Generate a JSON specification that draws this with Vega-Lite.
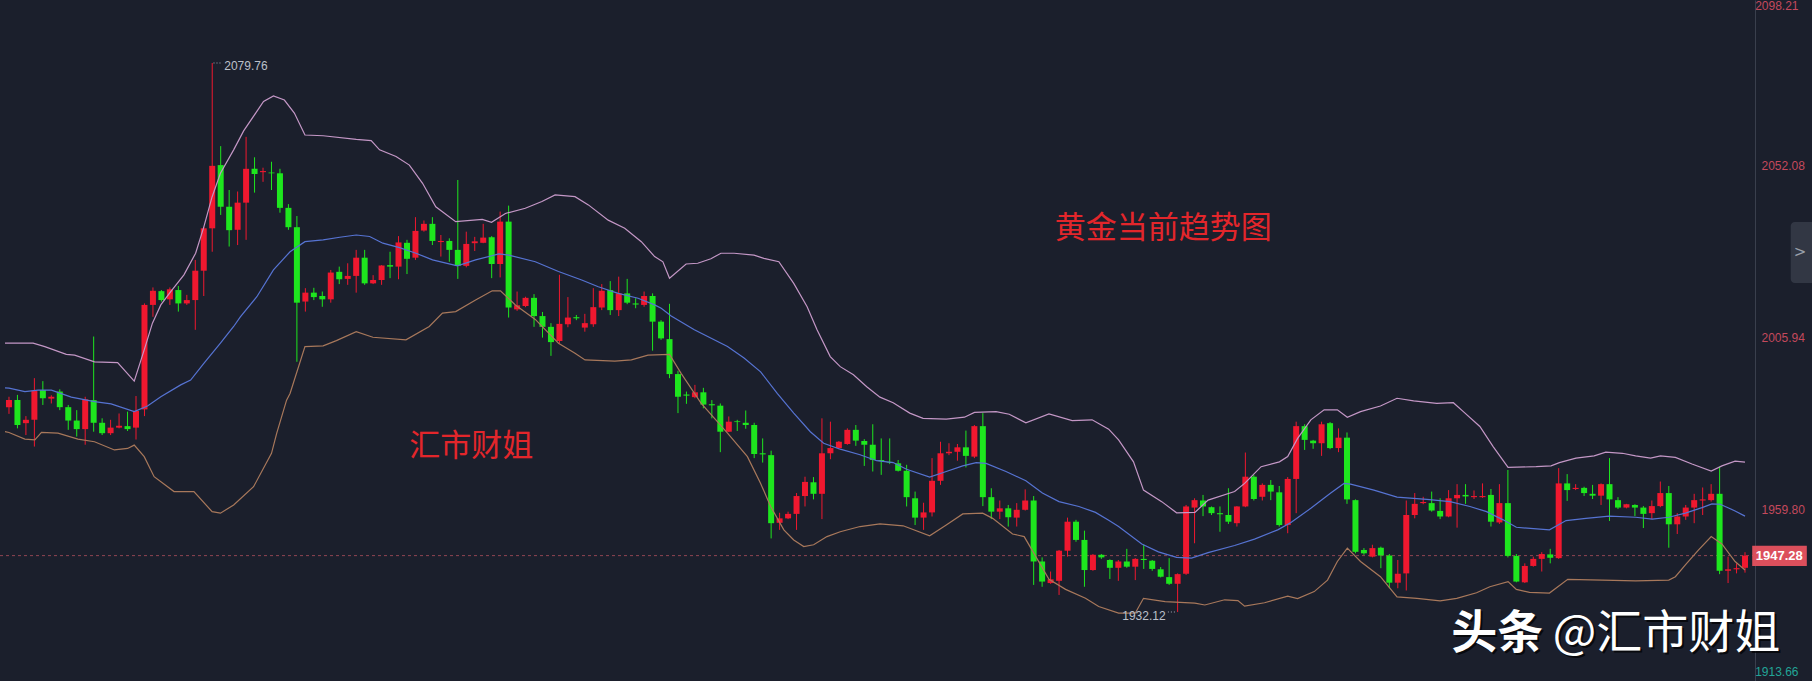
{
  "$schema": "https://vega.github.io/schema/vega-lite/v6.json",
  "width": 1755,
  "height": 681,
  "autosize": "none",
  "padding": {"left": 0, "top": 0, "right": 57, "bottom": 0},
  "background": "#1b1f2c",
  "config": {"view": {"stroke": null}, "font": "Liberation Sans"},
  "resolve": {"axis": {"y": "independent", "x": "independent"}},
  "datasets": {
    "candles": [
      {"i":0,"open":1987.2,"high":1990.0,"low":1985.4,"close":1989.1},
      {"i":1,"open":1989.1,"high":1990.5,"low":1981.5,"close":1982.4},
      {"i":2,"open":1982.9,"high":1984.8,"low":1979.7,"close":1983.8},
      {"i":3,"open":1983.8,"high":1995.0,"low":1976.6,"close":1991.6},
      {"i":4,"open":1991.8,"high":1994.2,"low":1987.8,"close":1989.6},
      {"i":5,"open":1989.5,"high":1990.4,"low":1988.2,"close":1990.0},
      {"i":6,"open":1991.4,"high":1992.0,"low":1986.4,"close":1987.2},
      {"i":7,"open":1987.2,"high":1987.8,"low":1981.1,"close":1983.6},
      {"i":8,"open":1983.6,"high":1986.4,"low":1979.3,"close":1981.3},
      {"i":9,"open":1981.3,"high":1990.0,"low":1977.1,"close":1989.3},
      {"i":10,"open":1989.1,"high":2006.2,"low":1980.6,"close":1983.0},
      {"i":11,"open":1983.0,"high":1984.2,"low":1979.7,"close":1980.2},
      {"i":12,"open":1980.2,"high":1983.8,"low":1979.7,"close":1981.7},
      {"i":13,"open":1981.7,"high":1985.5,"low":1981.5,"close":1982.2},
      {"i":14,"open":1982.1,"high":1986.0,"low":1980.8,"close":1981.3},
      {"i":15,"open":1981.7,"high":1990.2,"low":1978.5,"close":1986.2},
      {"i":16,"open":1986.6,"high":2015.1,"low":1984.8,"close":2014.7},
      {"i":17,"open":2014.7,"high":2019.4,"low":2011.5,"close":2018.5},
      {"i":18,"open":2018.4,"high":2018.7,"low":2015.6,"close":2016.0},
      {"i":19,"open":2016.2,"high":2019.4,"low":2014.7,"close":2018.9},
      {"i":20,"open":2018.7,"high":2019.8,"low":2012.9,"close":2015.1},
      {"i":21,"open":2015.1,"high":2017.4,"low":2014.7,"close":2016.0},
      {"i":22,"open":2016.0,"high":2026.8,"low":2008.0,"close":2023.9},
      {"i":23,"open":2023.9,"high":2035.7,"low":2017.1,"close":2035.3},
      {"i":24,"open":2035.3,"high":2079.76,"low":2029.0,"close":2052.1},
      {"i":25,"open":2052.3,"high":2057.4,"low":2038.9,"close":2041.1},
      {"i":26,"open":2041.1,"high":2045.6,"low":2030.4,"close":2034.8},
      {"i":27,"open":2034.9,"high":2045.2,"low":2030.8,"close":2042.2},
      {"i":28,"open":2042.2,"high":2059.9,"low":2032.2,"close":2051.3},
      {"i":29,"open":2051.3,"high":2054.4,"low":2044.9,"close":2049.9},
      {"i":30,"open":2050.4,"high":2051.6,"low":2047.8,"close":2050.7},
      {"i":31,"open":2050.3,"high":2053.2,"low":2045.6,"close":2050.1},
      {"i":32,"open":2050.1,"high":2051.3,"low":2039.5,"close":2040.8},
      {"i":33,"open":2040.8,"high":2041.8,"low":2034.9,"close":2035.6},
      {"i":34,"open":2035.6,"high":2038.6,"low":1999.4,"close":2015.3},
      {"i":35,"open":2015.6,"high":2019.2,"low":2012.9,"close":2018.0},
      {"i":36,"open":2018.0,"high":2019.3,"low":2016.0,"close":2016.8},
      {"i":37,"open":2017.1,"high":2018.3,"low":2014.2,"close":2016.2},
      {"i":38,"open":2016.2,"high":2024.1,"low":2015.3,"close":2023.4},
      {"i":39,"open":2023.6,"high":2025.0,"low":2020.3,"close":2021.6},
      {"i":40,"open":2021.7,"high":2025.9,"low":2020.1,"close":2022.5},
      {"i":41,"open":2022.5,"high":2029.5,"low":2018.0,"close":2027.4},
      {"i":42,"open":2027.4,"high":2029.5,"low":2020.1,"close":2020.5},
      {"i":43,"open":2020.5,"high":2022.7,"low":2020.3,"close":2021.4},
      {"i":44,"open":2021.4,"high":2025.4,"low":2020.1,"close":2025.3},
      {"i":45,"open":2025.4,"high":2029.0,"low":2021.9,"close":2025.0},
      {"i":46,"open":2025.0,"high":2033.2,"low":2021.6,"close":2031.5},
      {"i":47,"open":2031.4,"high":2032.2,"low":2023.0,"close":2027.1},
      {"i":48,"open":2027.4,"high":2038.3,"low":2026.8,"close":2034.6},
      {"i":49,"open":2034.7,"high":2037.4,"low":2034.4,"close":2036.5},
      {"i":50,"open":2036.5,"high":2038.3,"low":2030.8,"close":2031.9},
      {"i":51,"open":2031.6,"high":2033.5,"low":2027.7,"close":2031.9},
      {"i":52,"open":2031.9,"high":2032.6,"low":2026.3,"close":2029.5},
      {"i":53,"open":2029.5,"high":2048.3,"low":2021.7,"close":2025.2},
      {"i":54,"open":2025.2,"high":2034.4,"low":2024.8,"close":2031.1},
      {"i":55,"open":2031.3,"high":2033.0,"low":2029.2,"close":2031.8},
      {"i":56,"open":2031.4,"high":2036.5,"low":2031.3,"close":2032.8},
      {"i":57,"open":2032.9,"high":2033.2,"low":2021.9,"close":2025.7},
      {"i":58,"open":2025.7,"high":2039.8,"low":2022.1,"close":2037.1},
      {"i":59,"open":2037.1,"high":2041.4,"low":2011.3,"close":2014.0},
      {"i":60,"open":2013.5,"high":2018.3,"low":2013.1,"close":2014.6},
      {"i":61,"open":2014.4,"high":2016.9,"low":2014.1,"close":2016.6},
      {"i":62,"open":2016.6,"high":2017.6,"low":2008.8,"close":2011.7},
      {"i":63,"open":2011.7,"high":2012.8,"low":2005.9,"close":2008.8},
      {"i":64,"open":2008.8,"high":2009.8,"low":2001.0,"close":2004.7},
      {"i":65,"open":2005.0,"high":2022.8,"low":2004.4,"close":2009.6},
      {"i":66,"open":2009.5,"high":2016.8,"low":2008.7,"close":2011.3},
      {"i":67,"open":2011.4,"high":2012.0,"low":2010.6,"close":2011.1},
      {"i":68,"open":2008.6,"high":2012.3,"low":2007.5,"close":2009.8},
      {"i":69,"open":2009.5,"high":2019.2,"low":2008.8,"close":2014.1},
      {"i":70,"open":2014.0,"high":2020.3,"low":2013.3,"close":2018.5},
      {"i":71,"open":2018.7,"high":2021.1,"low":2012.0,"close":2013.3},
      {"i":72,"open":2013.3,"high":2022.3,"low":2011.7,"close":2017.8},
      {"i":73,"open":2017.8,"high":2021.7,"low":2014.9,"close":2015.3},
      {"i":74,"open":2015.1,"high":2016.5,"low":2013.8,"close":2014.8},
      {"i":75,"open":2014.7,"high":2018.3,"low":2014.2,"close":2017.1},
      {"i":76,"open":2017.1,"high":2017.8,"low":2002.4,"close":2010.2},
      {"i":77,"open":2010.2,"high":2010.6,"low":2005.3,"close":2005.7},
      {"i":78,"open":2005.5,"high":2015.0,"low":1995.0,"close":1996.1},
      {"i":79,"open":1996.1,"high":1997.0,"low":1985.6,"close":1990.0},
      {"i":80,"open":1990.6,"high":1991.4,"low":1988.1,"close":1990.3},
      {"i":81,"open":1989.9,"high":1993.2,"low":1989.6,"close":1991.2},
      {"i":82,"open":1991.2,"high":1992.4,"low":1986.9,"close":1987.9},
      {"i":83,"open":1988.0,"high":1989.1,"low":1984.2,"close":1987.7},
      {"i":84,"open":1987.6,"high":1988.2,"low":1975.1,"close":1980.6},
      {"i":85,"open":1980.6,"high":1984.7,"low":1980.5,"close":1983.3},
      {"i":86,"open":1983.4,"high":1983.8,"low":1980.8,"close":1983.2},
      {"i":87,"open":1983.0,"high":1986.3,"low":1981.4,"close":1982.4},
      {"i":88,"open":1982.4,"high":1983.0,"low":1973.5,"close":1974.6},
      {"i":89,"open":1974.8,"high":1978.8,"low":1972.3,"close":1974.5},
      {"i":90,"open":1974.3,"high":1975.5,"low":1951.9,"close":1956.0},
      {"i":91,"open":1956.1,"high":1958.8,"low":1954.2,"close":1957.3},
      {"i":92,"open":1957.3,"high":1959.1,"low":1957.1,"close":1958.5},
      {"i":93,"open":1958.5,"high":1964.1,"low":1954.2,"close":1963.3},
      {"i":94,"open":1963.3,"high":1968.5,"low":1960.5,"close":1967.1},
      {"i":95,"open":1967.0,"high":1968.4,"low":1962.4,"close":1963.9},
      {"i":96,"open":1963.9,"high":1984.2,"low":1957.1,"close":1974.8},
      {"i":97,"open":1974.8,"high":1983.3,"low":1973.2,"close":1976.2},
      {"i":98,"open":1976.2,"high":1978.1,"low":1975.9,"close":1977.9},
      {"i":99,"open":1977.3,"high":1981.5,"low":1977.1,"close":1981.1},
      {"i":100,"open":1981.1,"high":1982.4,"low":1976.8,"close":1978.2},
      {"i":101,"open":1978.1,"high":1978.6,"low":1971.4,"close":1977.1},
      {"i":102,"open":1977.1,"high":1982.6,"low":1969.9,"close":1973.0},
      {"i":103,"open":1973.0,"high":1978.8,"low":1969.0,"close":1972.7},
      {"i":104,"open":1972.5,"high":1978.8,"low":1971.9,"close":1972.3},
      {"i":105,"open":1972.1,"high":1973.0,"low":1969.9,"close":1970.1},
      {"i":106,"open":1970.1,"high":1971.7,"low":1960.5,"close":1963.0},
      {"i":107,"open":1962.7,"high":1964.5,"low":1955.5,"close":1957.5},
      {"i":108,"open":1957.5,"high":1961.5,"low":1954.2,"close":1958.9},
      {"i":109,"open":1958.9,"high":1973.5,"low":1957.8,"close":1967.4},
      {"i":110,"open":1967.4,"high":1977.9,"low":1966.3,"close":1974.8},
      {"i":111,"open":1974.8,"high":1977.5,"low":1974.3,"close":1975.2},
      {"i":112,"open":1975.2,"high":1977.3,"low":1972.8,"close":1976.4},
      {"i":113,"open":1976.4,"high":1980.9,"low":1971.0,"close":1974.1},
      {"i":114,"open":1973.9,"high":1982.4,"low":1973.5,"close":1982.1},
      {"i":115,"open":1982.1,"high":1985.6,"low":1960.6,"close":1963.0},
      {"i":116,"open":1963.0,"high":1965.4,"low":1957.1,"close":1959.1},
      {"i":117,"open":1959.1,"high":1962.1,"low":1957.1,"close":1960.0},
      {"i":118,"open":1960.0,"high":1960.9,"low":1955.1,"close":1957.6},
      {"i":119,"open":1957.5,"high":1961.4,"low":1955.1,"close":1959.6},
      {"i":120,"open":1959.6,"high":1965.1,"low":1959.4,"close":1962.1},
      {"i":121,"open":1962.1,"high":1963.3,"low":1939.4,"close":1945.7},
      {"i":122,"open":1945.7,"high":1946.8,"low":1938.9,"close":1940.3},
      {"i":123,"open":1939.9,"high":1943.0,"low":1939.7,"close":1940.9},
      {"i":124,"open":1940.5,"high":1948.8,"low":1936.7,"close":1948.6},
      {"i":125,"open":1948.6,"high":1957.5,"low":1947.0,"close":1956.4},
      {"i":126,"open":1956.4,"high":1956.9,"low":1951.0,"close":1951.5},
      {"i":127,"open":1951.5,"high":1954.0,"low":1938.9,"close":1943.4},
      {"i":128,"open":1943.4,"high":1947.7,"low":1943.2,"close":1947.5},
      {"i":129,"open":1947.5,"high":1947.7,"low":1946.4,"close":1946.8},
      {"i":130,"open":1946.1,"high":1946.3,"low":1941.0,"close":1944.0},
      {"i":131,"open":1944.0,"high":1946.1,"low":1940.5,"close":1945.7},
      {"i":132,"open":1945.7,"high":1949.1,"low":1944.0,"close":1944.3},
      {"i":133,"open":1944.3,"high":1946.6,"low":1940.7,"close":1946.4},
      {"i":134,"open":1946.4,"high":1950.2,"low":1943.7,"close":1946.1},
      {"i":135,"open":1945.9,"high":1946.1,"low":1943.2,"close":1943.7},
      {"i":136,"open":1943.6,"high":1944.2,"low":1941.4,"close":1941.6},
      {"i":137,"open":1941.5,"high":1946.6,"low":1939.4,"close":1939.7},
      {"i":138,"open":1939.7,"high":1942.5,"low":1932.12,"close":1942.3},
      {"i":139,"open":1942.4,"high":1960.9,"low":1942.1,"close":1960.5},
      {"i":140,"open":1960.2,"high":1962.7,"low":1950.6,"close":1962.2},
      {"i":141,"open":1962.1,"high":1963.6,"low":1957.9,"close":1960.5},
      {"i":142,"open":1960.3,"high":1960.5,"low":1958.2,"close":1958.7},
      {"i":143,"open":1958.7,"high":1960.5,"low":1953.7,"close":1958.4},
      {"i":144,"open":1958.2,"high":1965.4,"low":1955.8,"close":1956.4},
      {"i":145,"open":1956.0,"high":1960.6,"low":1955.1,"close":1960.5},
      {"i":146,"open":1960.5,"high":1975.0,"low":1960.3,"close":1968.5},
      {"i":147,"open":1968.5,"high":1969.0,"low":1962.1,"close":1962.5},
      {"i":148,"open":1963.1,"high":1966.7,"low":1962.1,"close":1966.3},
      {"i":149,"open":1966.3,"high":1967.6,"low":1962.2,"close":1964.5},
      {"i":150,"open":1964.3,"high":1966.0,"low":1955.1,"close":1955.5},
      {"i":151,"open":1955.5,"high":1968.4,"low":1953.3,"close":1967.9},
      {"i":152,"open":1967.9,"high":1983.3,"low":1958.7,"close":1982.1},
      {"i":153,"open":1982.1,"high":1982.6,"low":1975.7,"close":1978.4},
      {"i":154,"open":1978.2,"high":1978.4,"low":1976.0,"close":1977.5},
      {"i":155,"open":1977.5,"high":1983.3,"low":1974.1,"close":1982.6},
      {"i":156,"open":1982.9,"high":1983.2,"low":1975.9,"close":1976.2},
      {"i":157,"open":1976.2,"high":1981.5,"low":1975.1,"close":1979.0},
      {"i":158,"open":1979.0,"high":1980.4,"low":1961.2,"close":1962.4},
      {"i":159,"open":1962.2,"high":1962.4,"low":1947.9,"close":1948.3},
      {"i":160,"open":1948.8,"high":1949.3,"low":1947.5,"close":1947.9},
      {"i":161,"open":1947.0,"high":1950.2,"low":1946.8,"close":1949.3},
      {"i":162,"open":1949.4,"high":1949.7,"low":1943.9,"close":1947.3},
      {"i":163,"open":1947.3,"high":1947.7,"low":1938.5,"close":1940.0},
      {"i":164,"open":1940.0,"high":1946.1,"low":1938.5,"close":1942.4},
      {"i":165,"open":1942.5,"high":1962.1,"low":1937.9,"close":1958.2},
      {"i":166,"open":1958.2,"high":1964.1,"low":1957.3,"close":1961.2},
      {"i":167,"open":1961.4,"high":1963.1,"low":1961.1,"close":1961.7},
      {"i":168,"open":1961.4,"high":1964.5,"low":1959.1,"close":1959.4},
      {"i":169,"open":1959.3,"high":1962.7,"low":1957.1,"close":1957.8},
      {"i":170,"open":1957.8,"high":1964.9,"low":1957.6,"close":1962.7},
      {"i":171,"open":1962.7,"high":1966.5,"low":1954.8,"close":1963.6},
      {"i":172,"open":1963.6,"high":1966.5,"low":1961.2,"close":1963.2},
      {"i":173,"open":1963.0,"high":1964.8,"low":1962.5,"close":1963.3},
      {"i":174,"open":1963.0,"high":1966.7,"low":1962.8,"close":1963.3},
      {"i":175,"open":1963.6,"high":1965.2,"low":1955.1,"close":1956.4},
      {"i":176,"open":1956.2,"high":1966.5,"low":1955.8,"close":1961.4},
      {"i":177,"open":1961.4,"high":1970.3,"low":1946.8,"close":1947.2},
      {"i":178,"open":1947.2,"high":1947.7,"low":1940.1,"close":1940.3},
      {"i":179,"open":1940.1,"high":1945.2,"low":1939.9,"close":1944.5},
      {"i":180,"open":1944.5,"high":1947.0,"low":1944.3,"close":1946.4},
      {"i":181,"open":1946.4,"high":1948.2,"low":1943.0,"close":1947.7},
      {"i":182,"open":1947.6,"high":1949.1,"low":1945.2,"close":1946.7},
      {"i":183,"open":1946.6,"high":1970.8,"low":1946.4,"close":1966.7},
      {"i":184,"open":1966.7,"high":1969.2,"low":1962.0,"close":1964.9},
      {"i":185,"open":1965.2,"high":1966.5,"low":1964.9,"close":1965.5},
      {"i":186,"open":1965.5,"high":1965.8,"low":1963.3,"close":1964.1},
      {"i":187,"open":1963.9,"high":1966.3,"low":1962.5,"close":1963.4},
      {"i":188,"open":1963.4,"high":1966.7,"low":1960.9,"close":1966.5},
      {"i":189,"open":1966.5,"high":1973.5,"low":1956.6,"close":1962.4},
      {"i":190,"open":1962.2,"high":1963.0,"low":1959.8,"close":1960.2},
      {"i":191,"open":1960.2,"high":1961.2,"low":1960.0,"close":1961.1},
      {"i":192,"open":1960.9,"high":1961.1,"low":1957.9,"close":1960.2},
      {"i":193,"open":1960.2,"high":1960.6,"low":1954.7,"close":1958.5},
      {"i":194,"open":1958.7,"high":1962.1,"low":1957.1,"close":1960.6},
      {"i":195,"open":1960.6,"high":1967.2,"low":1960.3,"close":1964.1},
      {"i":196,"open":1964.1,"high":1966.0,"low":1949.4,"close":1955.7},
      {"i":197,"open":1955.7,"high":1958.7,"low":1953.1,"close":1957.8},
      {"i":198,"open":1957.8,"high":1960.9,"low":1956.9,"close":1960.2},
      {"i":199,"open":1960.2,"high":1963.9,"low":1956.0,"close":1962.2},
      {"i":200,"open":1962.1,"high":1965.6,"low":1958.2,"close":1962.4},
      {"i":201,"open":1962.2,"high":1966.5,"low":1961.8,"close":1963.9},
      {"i":202,"open":1963.9,"high":1971.2,"low":1942.3,"close":1943.2},
      {"i":203,"open":1943.2,"high":1947.0,"low":1939.9,"close":1943.6},
      {"i":204,"open":1943.6,"high":1945.2,"low":1942.5,"close":1943.9},
      {"i":205,"open":1944.0,"high":1948.2,"low":1942.7,"close":1947.28}
    ],
    "bands": [
      {"b":"u","i":-0.47,"v":2004.4},{"b":"u","i":0,"v":2004.4},{"b":"u","i":2.85,"v":2004.4},{"b":"u","i":4.23,"v":2003.5},{"b":"u","i":6.77,"v":2001.4},{"b":"u","i":7.75,"v":2001.2},{"b":"u","i":10.1,"v":1999.4},{"b":"u","i":12.83,"v":1999.2},{"b":"u","i":14.79,"v":1994.2},{"b":"u","i":15.97,"v":2002.6},{"b":"u","i":16.94,"v":2009.8},{"b":"u","i":17.93,"v":2014.7},{"b":"u","i":19.1,"v":2018.3},{"b":"u","i":20.66,"v":2022.8},{"b":"u","i":22.04,"v":2028.6},{"b":"u","i":23.01,"v":2035.7},{"b":"u","i":23.99,"v":2043.8},{"b":"u","i":24.97,"v":2050.1},{"b":"u","i":26.53,"v":2056.4},{"b":"u","i":27.71,"v":2061.5},{"b":"u","i":30.06,"v":2069.4},{"b":"u","i":31.23,"v":2070.9},{"b":"u","i":32.52,"v":2069.8},{"b":"u","i":33.7,"v":2066.3},{"b":"u","i":34.95,"v":2060.4},{"b":"u","i":37.1,"v":2060.2},{"b":"u","i":41.01,"v":2059.2},{"b":"u","i":42.77,"v":2058.9},{"b":"u","i":43.76,"v":2056.4},{"b":"u","i":45.71,"v":2054.6},{"b":"u","i":47.28,"v":2052.3},{"b":"u","i":48.84,"v":2047.4},{"b":"u","i":50.4,"v":2041.1},{"b":"u","i":52.75,"v":2037.1},{"b":"u","i":55.89,"v":2037.7},{"b":"u","i":56.98,"v":2036.9},{"b":"u","i":58.62,"v":2039.3},{"b":"u","i":60.97,"v":2040.7},{"b":"u","i":62.93,"v":2042.5},{"b":"u","i":64.49,"v":2044.3},{"b":"u","i":66.84,"v":2043.8},{"b":"u","i":68.42,"v":2041.6},{"b":"u","i":70.76,"v":2037.5},{"b":"u","i":72.71,"v":2035.3},{"b":"u","i":74.67,"v":2031.7},{"b":"u","i":76.24,"v":2027.7},{"b":"u","i":77.22,"v":2026.3},{"b":"u","i":78.0,"v":2021.9},{"b":"u","i":79.96,"v":2025.7},{"b":"u","i":81.33,"v":2025.9},{"b":"u","i":82.89,"v":2027.1},{"b":"u","i":84.07,"v":2028.6},{"b":"u","i":85.63,"v":2028.6},{"b":"u","i":87.98,"v":2028.1},{"b":"u","i":89.15,"v":2027.2},{"b":"u","i":90.91,"v":2026.3},{"b":"u","i":92.67,"v":2020.5},{"b":"u","i":94.25,"v":2014.2},{"b":"u","i":95.42,"v":2008.0},{"b":"u","i":96.98,"v":2000.8},{"b":"u","i":98.16,"v":1998.1},{"b":"u","i":99.72,"v":1995.9},{"b":"u","i":101.29,"v":1992.7},{"b":"u","i":102.85,"v":1989.9},{"b":"u","i":104.41,"v":1988.4},{"b":"u","i":106.37,"v":1985.6},{"b":"u","i":107.94,"v":1984.2},{"b":"u","i":110.68,"v":1984.0},{"b":"u","i":112.83,"v":1984.5},{"b":"u","i":114.01,"v":1985.8},{"b":"u","i":116.56,"v":1986.0},{"b":"u","i":118.12,"v":1985.3},{"b":"u","i":120.08,"v":1983.0},{"b":"u","i":122.81,"v":1985.4},{"b":"u","i":125.55,"v":1983.6},{"b":"u","i":127.9,"v":1983.8},{"b":"u","i":129.86,"v":1981.3},{"b":"u","i":131.03,"v":1978.4},{"b":"u","i":132.79,"v":1972.5},{"b":"u","i":133.97,"v":1964.9},{"b":"u","i":136.12,"v":1961.8},{"b":"u","i":137.88,"v":1958.8},{"b":"u","i":140.04,"v":1958.9},{"b":"u","i":141.6,"v":1962.2},{"b":"u","i":144.73,"v":1964.5},{"b":"u","i":145.91,"v":1966.7},{"b":"u","i":147.86,"v":1971.2},{"b":"u","i":150.02,"v":1972.5},{"b":"u","i":151.0,"v":1973.9},{"b":"u","i":152.17,"v":1978.8},{"b":"u","i":153.73,"v":1983.8},{"b":"u","i":155.3,"v":1986.5},{"b":"u","i":156.86,"v":1986.5},{"b":"u","i":158.04,"v":1984.5},{"b":"u","i":159.6,"v":1986.0},{"b":"u","i":161.95,"v":1987.5},{"b":"u","i":163.91,"v":1989.6},{"b":"u","i":165.87,"v":1988.9},{"b":"u","i":168.6,"v":1988.2},{"b":"u","i":170.56,"v":1988.4},{"b":"u","i":171.74,"v":1986.0},{"b":"u","i":173.69,"v":1982.0},{"b":"u","i":175.26,"v":1976.6},{"b":"u","i":177.02,"v":1971.0},{"b":"u","i":180.34,"v":1971.2},{"b":"u","i":182.1,"v":1971.4},{"b":"u","i":183.08,"v":1972.3},{"b":"u","i":185.04,"v":1973.5},{"b":"u","i":187.19,"v":1974.1},{"b":"u","i":188.56,"v":1975.1},{"b":"u","i":190.52,"v":1974.8},{"b":"u","i":192.08,"v":1974.1},{"b":"u","i":193.85,"v":1973.5},{"b":"u","i":195.02,"v":1974.1},{"b":"u","i":196.78,"v":1973.7},{"b":"u","i":198.74,"v":1971.9},{"b":"u","i":201.01,"v":1970.0},{"b":"u","i":202.27,"v":1971.4},{"b":"u","i":203.83,"v":1972.7},{"b":"u","i":205.0,"v":1972.4},
      {"b":"m","i":-0.47,"v":1992.4},{"b":"m","i":0,"v":1992.3},{"b":"m","i":1.88,"v":1991.4},{"b":"m","i":3.44,"v":1991.8},{"b":"m","i":5.01,"v":1991.8},{"b":"m","i":7.36,"v":1989.9},{"b":"m","i":10.1,"v":1988.7},{"b":"m","i":12.06,"v":1988.1},{"b":"m","i":14.79,"v":1986.0},{"b":"m","i":16.36,"v":1987.5},{"b":"m","i":17.93,"v":1990.0},{"b":"m","i":20.28,"v":1993.2},{"b":"m","i":21.45,"v":1994.5},{"b":"m","i":23.01,"v":1999.0},{"b":"m","i":24.97,"v":2004.4},{"b":"m","i":26.53,"v":2008.9},{"b":"m","i":27.32,"v":2011.5},{"b":"m","i":29.27,"v":2016.9},{"b":"m","i":31.23,"v":2024.1},{"b":"m","i":33.19,"v":2029.0},{"b":"m","i":34.95,"v":2031.7},{"b":"m","i":37.1,"v":2032.2},{"b":"m","i":39.06,"v":2032.9},{"b":"m","i":41.01,"v":2033.5},{"b":"m","i":42.59,"v":2033.1},{"b":"m","i":44.15,"v":2031.3},{"b":"m","i":46.11,"v":2030.1},{"b":"m","i":48.06,"v":2028.6},{"b":"m","i":50.02,"v":2026.8},{"b":"m","i":52.95,"v":2025.2},{"b":"m","i":55.1,"v":2026.8},{"b":"m","i":57.85,"v":2028.4},{"b":"m","i":59.02,"v":2028.1},{"b":"m","i":62.15,"v":2026.3},{"b":"m","i":64.89,"v":2023.7},{"b":"m","i":67.63,"v":2021.4},{"b":"m","i":69.59,"v":2019.6},{"b":"m","i":71.94,"v":2017.8},{"b":"m","i":74.29,"v":2016.5},{"b":"m","i":76.24,"v":2014.7},{"b":"m","i":77.02,"v":2013.8},{"b":"m","i":78.2,"v":2011.7},{"b":"m","i":80.93,"v":2008.0},{"b":"m","i":84.85,"v":2003.5},{"b":"m","i":86.8,"v":2000.4},{"b":"m","i":88.76,"v":1996.7},{"b":"m","i":90.72,"v":1990.9},{"b":"m","i":92.67,"v":1985.6},{"b":"m","i":94.63,"v":1980.6},{"b":"m","i":96.2,"v":1977.5},{"b":"m","i":98.16,"v":1975.9},{"b":"m","i":100.5,"v":1974.4},{"b":"m","i":102.46,"v":1972.8},{"b":"m","i":104.41,"v":1972.3},{"b":"m","i":105.99,"v":1970.5},{"b":"m","i":108.72,"v":1968.4},{"b":"m","i":110.68,"v":1969.9},{"b":"m","i":112.63,"v":1971.4},{"b":"m","i":114.21,"v":1972.3},{"b":"m","i":115.38,"v":1972.1},{"b":"m","i":117.73,"v":1969.9},{"b":"m","i":120.08,"v":1967.4},{"b":"m","i":122.03,"v":1964.1},{"b":"m","i":123.99,"v":1961.8},{"b":"m","i":126.34,"v":1960.5},{"b":"m","i":128.3,"v":1958.9},{"b":"m","i":129.86,"v":1956.8},{"b":"m","i":131.03,"v":1955.1},{"b":"m","i":133.77,"v":1950.4},{"b":"m","i":135.73,"v":1948.3},{"b":"m","i":137.88,"v":1946.8},{"b":"m","i":139.64,"v":1946.6},{"b":"m","i":141.6,"v":1948.1},{"b":"m","i":144.73,"v":1950.0},{"b":"m","i":147.08,"v":1951.7},{"b":"m","i":149.82,"v":1954.2},{"b":"m","i":151.38,"v":1956.2},{"b":"m","i":153.73,"v":1960.0},{"b":"m","i":156.08,"v":1964.1},{"b":"m","i":157.65,"v":1966.7},{"b":"m","i":158.43,"v":1966.5},{"b":"m","i":161.18,"v":1964.9},{"b":"m","i":163.91,"v":1963.0},{"b":"m","i":167.43,"v":1962.4},{"b":"m","i":170.17,"v":1961.8},{"b":"m","i":172.52,"v":1960.5},{"b":"m","i":174.48,"v":1959.1},{"b":"m","i":176.44,"v":1956.9},{"b":"m","i":178.0,"v":1954.9},{"b":"m","i":181.91,"v":1954.2},{"b":"m","i":183.87,"v":1956.7},{"b":"m","i":186.22,"v":1957.3},{"b":"m","i":188.96,"v":1957.9},{"b":"m","i":192.08,"v":1957.6},{"b":"m","i":194.05,"v":1957.1},{"b":"m","i":196.0,"v":1957.6},{"b":"m","i":197.96,"v":1958.7},{"b":"m","i":199.92,"v":1960.2},{"b":"m","i":201.1,"v":1961.2},{"b":"m","i":202.07,"v":1961.1},{"b":"m","i":203.83,"v":1959.3},{"b":"m","i":205.0,"v":1957.9},
      {"b":"l","i":-0.47,"v":1980.6},{"b":"l","i":0,"v":1980.4},{"b":"l","i":1.88,"v":1978.6},{"b":"l","i":3.05,"v":1978.4},{"b":"l","i":3.84,"v":1980.4},{"b":"l","i":5.79,"v":1980.2},{"b":"l","i":8.14,"v":1978.6},{"b":"l","i":10.1,"v":1977.9},{"b":"l","i":12.45,"v":1975.7},{"b":"l","i":14.01,"v":1976.1},{"b":"l","i":14.79,"v":1977.0},{"b":"l","i":15.97,"v":1973.9},{"b":"l","i":17.14,"v":1968.5},{"b":"l","i":19.49,"v":1964.5},{"b":"l","i":21.84,"v":1964.5},{"b":"l","i":23.99,"v":1959.1},{"b":"l","i":24.97,"v":1958.7},{"b":"l","i":26.53,"v":1960.9},{"b":"l","i":28.88,"v":1965.8},{"b":"l","i":31.0,"v":1974.8},{"b":"l","i":31.62,"v":1980.2},{"b":"l","i":32.78,"v":1989.1},{"b":"l","i":33.19,"v":1990.9},{"b":"l","i":34.95,"v":2003.5},{"b":"l","i":37.1,"v":2003.7},{"b":"l","i":38.66,"v":2005.1},{"b":"l","i":41.01,"v":2007.5},{"b":"l","i":42.97,"v":2006.0},{"b":"l","i":46.88,"v":2005.3},{"b":"l","i":49.63,"v":2008.9},{"b":"l","i":51.19,"v":2012.5},{"b":"l","i":52.75,"v":2012.9},{"b":"l","i":55.1,"v":2016.0},{"b":"l","i":57.06,"v":2018.5},{"b":"l","i":58.04,"v":2018.5},{"b":"l","i":59.8,"v":2014.7},{"b":"l","i":62.15,"v":2010.8},{"b":"l","i":64.89,"v":2004.4},{"b":"l","i":66.84,"v":2001.7},{"b":"l","i":68.02,"v":1999.9},{"b":"l","i":71.54,"v":1999.6},{"b":"l","i":73.5,"v":1999.9},{"b":"l","i":75.46,"v":2001.2},{"b":"l","i":78.0,"v":2001.4},{"b":"l","i":79.37,"v":1996.3},{"b":"l","i":81.72,"v":1988.3},{"b":"l","i":84.85,"v":1980.2},{"b":"l","i":87.2,"v":1973.9},{"b":"l","i":88.76,"v":1966.7},{"b":"l","i":89.94,"v":1960.5},{"b":"l","i":91.5,"v":1954.2},{"b":"l","i":92.67,"v":1951.5},{"b":"l","i":93.85,"v":1949.7},{"b":"l","i":95.02,"v":1950.2},{"b":"l","i":96.59,"v":1952.4},{"b":"l","i":98.16,"v":1953.7},{"b":"l","i":100.5,"v":1955.1},{"b":"l","i":102.85,"v":1955.8},{"b":"l","i":105.59,"v":1955.3},{"b":"l","i":108.72,"v":1952.6},{"b":"l","i":110.68,"v":1955.5},{"b":"l","i":112.63,"v":1958.5},{"b":"l","i":114.98,"v":1958.7},{"b":"l","i":116.16,"v":1957.3},{"b":"l","i":118.51,"v":1953.1},{"b":"l","i":119.88,"v":1952.4},{"b":"l","i":121.26,"v":1947.0},{"b":"l","i":122.81,"v":1940.9},{"b":"l","i":124.77,"v":1938.2},{"b":"l","i":127.12,"v":1935.8},{"b":"l","i":128.68,"v":1933.6},{"b":"l","i":131.03,"v":1931.8},{"b":"l","i":132.99,"v":1931.8},{"b":"l","i":133.97,"v":1935.8},{"b":"l","i":136.52,"v":1934.9},{"b":"l","i":140.04,"v":1934.5},{"b":"l","i":141.21,"v":1934.0},{"b":"l","i":143.56,"v":1935.4},{"b":"l","i":145.12,"v":1935.2},{"b":"l","i":145.91,"v":1933.7},{"b":"l","i":148.26,"v":1934.6},{"b":"l","i":151.0,"v":1936.4},{"b":"l","i":152.17,"v":1935.7},{"b":"l","i":154.13,"v":1937.6},{"b":"l","i":155.7,"v":1940.7},{"b":"l","i":156.86,"v":1945.7},{"b":"l","i":158.04,"v":1949.3},{"b":"l","i":159.6,"v":1945.7},{"b":"l","i":161.95,"v":1941.6},{"b":"l","i":163.91,"v":1936.2},{"b":"l","i":166.26,"v":1935.8},{"b":"l","i":169.0,"v":1935.1},{"b":"l","i":170.96,"v":1935.8},{"b":"l","i":173.3,"v":1937.3},{"b":"l","i":174.87,"v":1938.9},{"b":"l","i":177.02,"v":1940.3},{"b":"l","i":178.0,"v":1938.2},{"b":"l","i":179.56,"v":1937.4},{"b":"l","i":181.91,"v":1937.2},{"b":"l","i":184.07,"v":1940.9},{"b":"l","i":188.18,"v":1940.7},{"b":"l","i":192.08,"v":1940.5},{"b":"l","i":196.0,"v":1940.7},{"b":"l","i":196.78,"v":1941.6},{"b":"l","i":197.96,"v":1944.8},{"b":"l","i":199.52,"v":1948.8},{"b":"l","i":201.01,"v":1952.4},{"b":"l","i":202.27,"v":1950.4},{"b":"l","i":203.83,"v":1945.7},{"b":"l","i":205.0,"v":1943.4}
    ]
  },
  "layer": [
    {
      "data": {"name": "candles"},
      "mark": {"type": "rule", "strokeWidth": 1},
      "encoding": {
        "x": {"field": "i", "type": "quantitative", "scale": {"domain": [-0.4697, 205.59], "nice": false, "zero": false}, "axis": null},
        "y": {"field": "low", "type": "quantitative",
          "scale": {"domain": [1913.56, 2096.7], "nice": false, "zero": false},
          "axis": {"orient": "right", "title": null, "grid": false, "ticks": false,
            "domain": true, "domainColor": "#3a3f4d", "domainWidth": 1,
            "values": [2052.08, 2005.94, 1959.8], "format": ".2f",
            "labelFont": "Liberation Sans", "labelFontSize": 12, "labelPadding": 6,
            "labelAlign": "left", "labelBaseline": "middle", "labelOverlap": false,
            "labelColor": "#c4495c"}},
        "y2": {"field": "high"},
        "color": {"condition": {"test": "datum.close >= datum.open", "value": "#f0182f"}, "value": "#1ee61e"}
      }
    },
    {
      "data": {"values": [{"p": 1947.28}]},
      "mark": {"type": "rule", "stroke": "#8f4552", "strokeDash": [3, 3], "strokeWidth": 1},
      "encoding": {
        "y": {"field": "p", "type": "quantitative", "axis": null}
      }
    },
    {
      "data": {"name": "candles"},
      "mark": {"type": "bar", "size": 6},
      "encoding": {
        "x": {"field": "i", "type": "quantitative", "axis": null},
        "y": {"field": "open", "type": "quantitative", "axis": null},
        "y2": {"field": "close"},
        "color": {"condition": {"test": "datum.close >= datum.open", "value": "#f0182f"}, "value": "#1ee61e"}
      }
    },
    {
      "data": {"name": "bands"},
      "mark": {"type": "line", "strokeWidth": 1.2},
      "encoding": {
        "x": {"field": "i", "type": "quantitative", "axis": null},
        "y": {"field": "v", "type": "quantitative", "axis": null},
        "color": {"field": "b", "type": "nominal", "scale": {"domain": ["u", "m", "l"], "range": ["#c497c6", "#5673d2", "#a8785b"]}, "legend": null}
      }
    },
    {
      "data": {"values": [{"i": 24.15, "i2": 25.2, "p": 2079.76}, {"i": 136.85, "i2": 137.9, "p": 1932.12}]},
      "mark": {"type": "rule", "stroke": "#a3a8b3", "strokeDash": [1, 2], "strokeWidth": 1},
      "encoding": {
        "x": {"field": "i", "type": "quantitative", "axis": null},
        "x2": {"field": "i2"},
        "y": {"field": "p", "type": "quantitative", "axis": null}
      }
    },
    {
      "data": {"values": [{"i": 24, "p": 2079.76, "t": "2079.76"}]},
      "mark": {"type": "text", "align": "left", "baseline": "middle", "dx": 12, "dy": 3, "fontSize": 12, "fill": "#bcc0ca", "font": "Liberation Sans"},
      "encoding": {
        "x": {"field": "i", "type": "quantitative", "axis": null},
        "y": {"field": "p", "type": "quantitative", "axis": null},
        "text": {"field": "t"}
      }
    },
    {
      "data": {"values": [{"i": 138, "p": 1932.12, "t": "1932.12"}]},
      "mark": {"type": "text", "align": "right", "baseline": "middle", "dx": -12, "dy": 4, "fontSize": 12, "fill": "#bcc0ca", "font": "Liberation Sans"},
      "encoding": {
        "x": {"field": "i", "type": "quantitative", "axis": null},
        "y": {"field": "p", "type": "quantitative", "axis": null},
        "text": {"field": "t"}
      }
    },
    {
      "data": {"values": [{"i": 206.2, "p": 2098.21, "t": "2098.21"}]},
      "mark": {"type": "text", "align": "left", "baseline": "top", "dy": 7, "fontSize": 12, "fill": "#c4495c", "font": "Liberation Sans"},
      "encoding": {
        "x": {"field": "i", "type": "quantitative", "axis": null},
        "y": {"field": "p", "type": "quantitative", "axis": null},
        "text": {"field": "t"}
      }
    },
    {
      "data": {"values": [{"i": 206.2, "p": 1913.66, "t": "1913.66"}]},
      "mark": {"type": "text", "align": "left", "baseline": "bottom", "dy": -2, "fontSize": 12, "fill": "#22a597", "font": "Liberation Sans"},
      "encoding": {
        "x": {"field": "i", "type": "quantitative", "axis": null},
        "y": {"field": "p", "type": "quantitative", "axis": null},
        "text": {"field": "t"}
      }
    },
    {
      "data": {"values": [{"i": 136.3, "p": 2035.1, "t": "黄金当前趋势图"}, {"i": 54.6, "p": 1976.4, "t": "汇市财姐"}]},
      "mark": {"type": "text", "align": "center", "baseline": "middle", "fontSize": 31, "fill": "#e3262b", "font": "Noto Sans CJK SC"},
      "encoding": {
        "x": {"field": "i", "type": "quantitative", "axis": null},
        "y": {"field": "p", "type": "quantitative", "axis": null},
        "text": {"field": "t"}
      }
    },
    {
      "data": {"values": [{"i": 205.85, "i2": 212.3, "p": 1949.9, "p2": 1944.5}]},
      "mark": {"type": "rect", "fill": "#dc4f5c"},
      "encoding": {
        "x": {"field": "i", "type": "quantitative", "axis": null},
        "x2": {"field": "i2"},
        "y": {"field": "p", "type": "quantitative", "axis": null},
        "y2": {"field": "p2"}
      }
    },
    {
      "data": {"values": [{"i": 209.05, "p": 1947.28, "t": "1947.28"}]},
      "mark": {"type": "text", "align": "center", "baseline": "middle", "fontSize": 13, "fontWeight": "bold", "fill": "#ffffff", "font": "Liberation Sans"},
      "encoding": {
        "x": {"field": "i", "type": "quantitative", "axis": null},
        "y": {"field": "p", "type": "quantitative", "axis": null},
        "text": {"field": "t"}
      }
    },
    {
      "data": {"values": [{"i": 210.4, "i2": 213.5, "p": 2037.0, "p2": 2020.6}]},
      "mark": {"type": "rect", "fill": "#323744", "cornerRadius": 4},
      "encoding": {
        "x": {"field": "i", "type": "quantitative", "axis": null},
        "x2": {"field": "i2"},
        "y": {"field": "p", "type": "quantitative", "axis": null},
        "y2": {"field": "p2"}
      }
    },
    {
      "data": {"values": [{"i": 211.5, "p": 2028.8, "t": ">"}]},
      "mark": {"type": "text", "align": "center", "baseline": "middle", "fontSize": 15, "fill": "#9aa0ab", "font": "DejaVu Sans"},
      "encoding": {
        "x": {"field": "i", "type": "quantitative", "axis": null},
        "y": {"field": "p", "type": "quantitative", "axis": null},
        "text": {"field": "t"}
      }
    },
    {
      "data": {"values": [{"i": 170.3, "p": 1926.2, "t": "头条"}]},
      "mark": {"type": "text", "align": "left", "baseline": "middle", "dx": 2, "dy": 2, "fontSize": 46, "fontWeight": "bold", "fill": "#000000", "opacity": 0.7, "font": "Noto Sans CJK SC"},
      "encoding": {
        "x": {"field": "i", "type": "quantitative", "axis": null},
        "y": {"field": "p", "type": "quantitative", "axis": null},
        "text": {"field": "t"}
      }
    },
    {
      "data": {"values": [{"i": 182.3, "p": 1926.2, "t": "@汇市财姐"}]},
      "mark": {"type": "text", "align": "left", "baseline": "middle", "dx": 2, "dy": 2, "fontSize": 46, "fill": "#000000", "opacity": 0.7, "font": "Noto Sans CJK SC"},
      "encoding": {
        "x": {"field": "i", "type": "quantitative", "axis": null},
        "y": {"field": "p", "type": "quantitative", "axis": null},
        "text": {"field": "t"}
      }
    },
    {
      "data": {"values": [{"i": 170.3, "p": 1926.2, "t": "头条"}]},
      "mark": {"type": "text", "align": "left", "baseline": "middle", "fontSize": 46, "fontWeight": "bold", "fill": "#ffffff", "font": "Noto Sans CJK SC"},
      "encoding": {
        "x": {"field": "i", "type": "quantitative", "axis": null},
        "y": {"field": "p", "type": "quantitative", "axis": null},
        "text": {"field": "t"}
      }
    },
    {
      "data": {"values": [{"i": 182.3, "p": 1926.2, "t": "@汇市财姐"}]},
      "mark": {"type": "text", "align": "left", "baseline": "middle", "fontSize": 46, "fill": "#ffffff", "font": "Noto Sans CJK SC"},
      "encoding": {
        "x": {"field": "i", "type": "quantitative", "axis": null},
        "y": {"field": "p", "type": "quantitative", "axis": null},
        "text": {"field": "t"}
      }
    }
  ]
}
